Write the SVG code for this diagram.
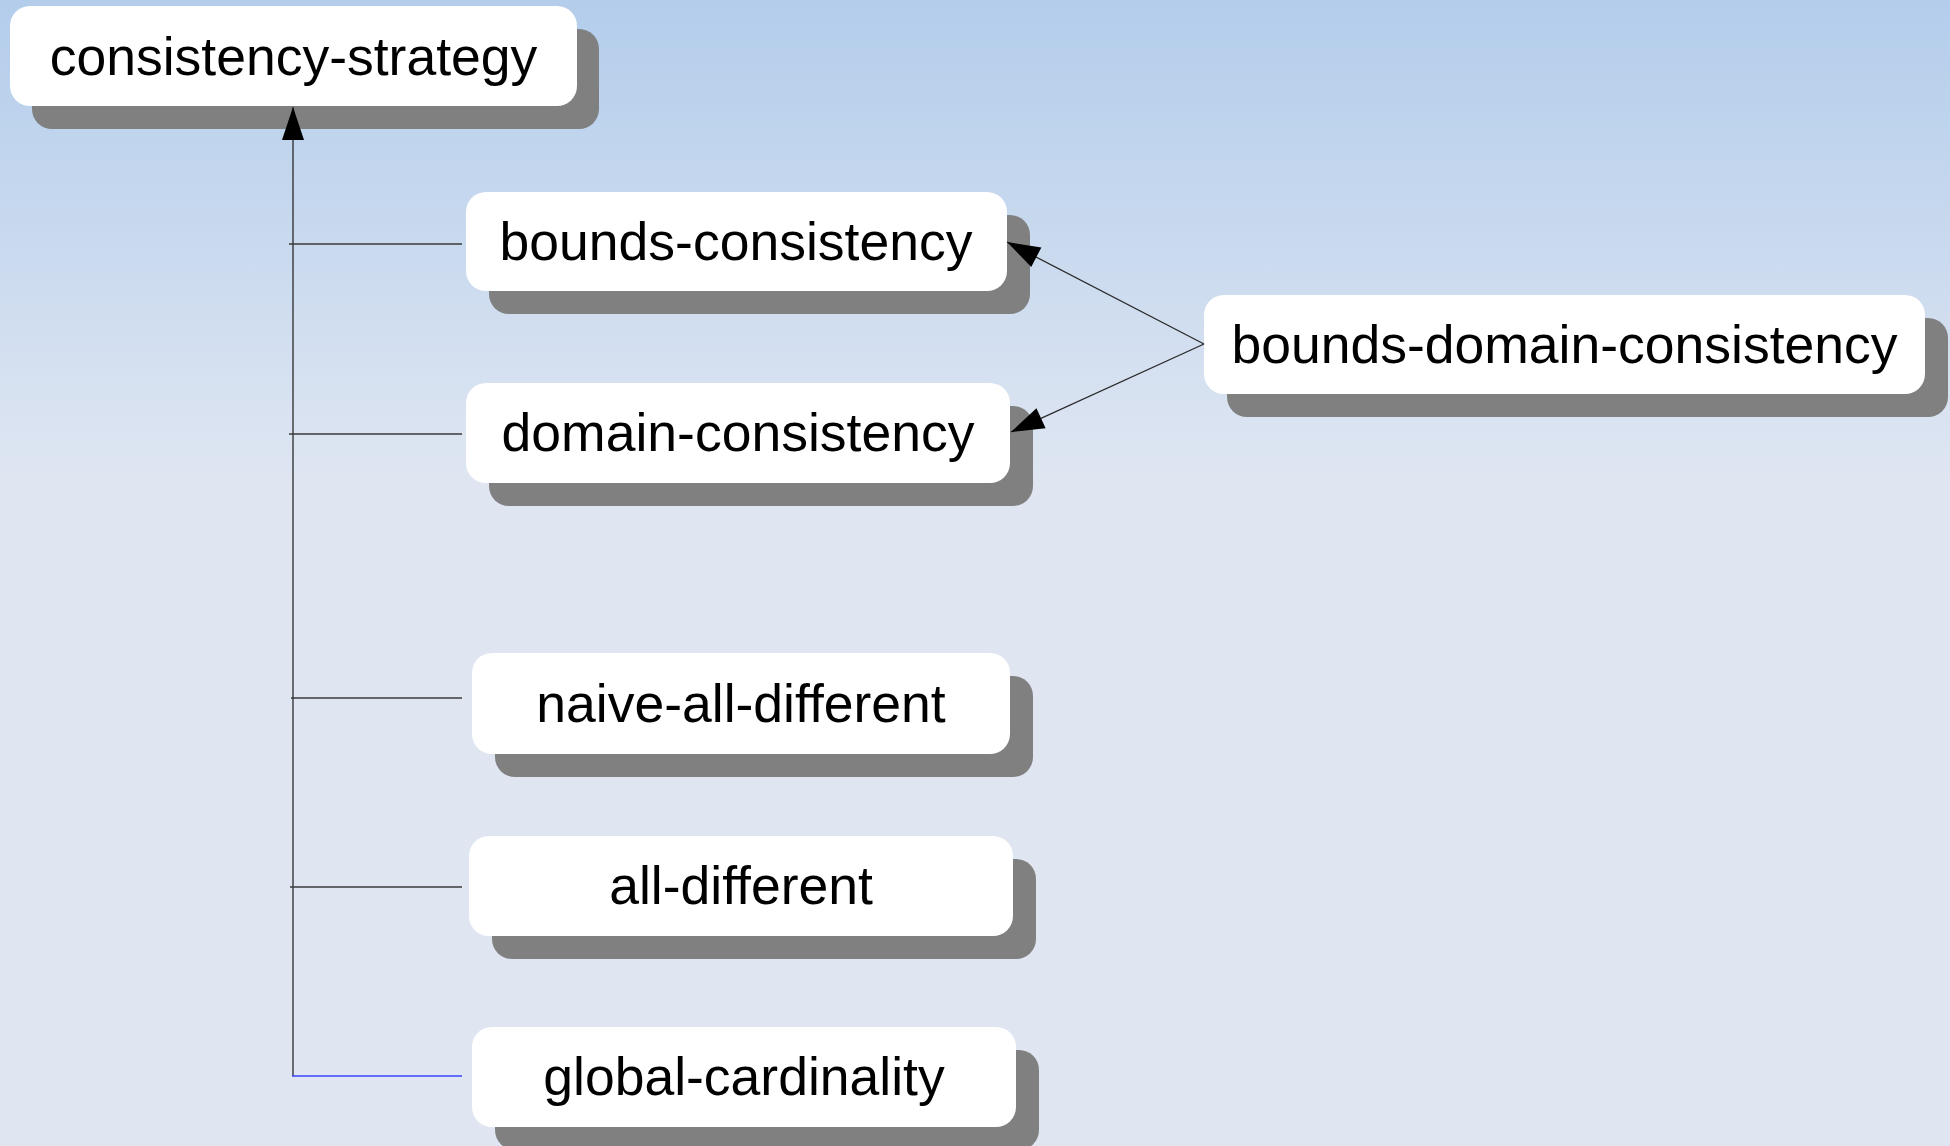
<svg xmlns="http://www.w3.org/2000/svg" width="1950" height="1146" viewBox="0 0 1950 1146">
  <defs>
    <linearGradient id="bg" x1="0" y1="0" x2="0" y2="1146" gradientUnits="userSpaceOnUse">
      <stop offset="0" stop-color="#b3cdeb"/>
      <stop offset="0.42" stop-color="#dfe6f2"/>
      <stop offset="1" stop-color="#dfe6f2"/>
    </linearGradient>
    <marker id="arrow" viewBox="0 0 34 22" markerUnits="userSpaceOnUse" markerWidth="34" markerHeight="22" refX="33" refY="11" orient="auto" overflow="visible">
      <path d="M0,0 L33,11 L0,22 z" fill="#000"/>
    </marker>
    <style>
      .shadow { fill: #808080; }
      .box { fill: #ffffff; }
      .label { font-family: "Liberation Sans", Arial, sans-serif; font-size: 53.5px; fill: #000; text-anchor: middle; }
      .edge { fill: none; stroke: #2a2a2a; stroke-width: 1.3; }
      .branch { fill: none; stroke: #3a3a3a; stroke-width: 1.5; }
    </style>
  </defs>

  <rect x="0" y="0" width="1950" height="1146" fill="url(#bg)"/>

  <!-- nodes -->
  <g id="consistency-strategy">
    <rect class="shadow" x="32" y="29" width="567" height="100" rx="20"/>
    <rect class="box" x="10" y="6" width="567" height="100" rx="20"/>
    <text class="label" x="293.5" y="74.5">consistency-strategy</text>
  </g>

  <g id="bounds-consistency">
    <rect class="shadow" x="489" y="215" width="541" height="99" rx="20"/>
    <rect class="box" x="466" y="192" width="541" height="99" rx="20"/>
    <text class="label" x="736" y="259.5">bounds-consistency</text>
  </g>

  <g id="domain-consistency">
    <rect class="shadow" x="489" y="406" width="544" height="100" rx="20"/>
    <rect class="box" x="466" y="383" width="544" height="100" rx="20"/>
    <text class="label" x="738" y="451">domain-consistency</text>
  </g>

  <g id="bounds-domain-consistency">
    <rect class="shadow" x="1227" y="318" width="721" height="99" rx="20"/>
    <rect class="box" x="1204" y="295" width="721" height="99" rx="20"/>
    <text class="label" x="1564.5" y="363">bounds-domain-consistency</text>
  </g>

  <g id="naive-all-different">
    <rect class="shadow" x="495" y="676" width="538" height="101" rx="20"/>
    <rect class="box" x="472" y="653" width="538" height="101" rx="20"/>
    <text class="label" x="741" y="722">naive-all-different</text>
  </g>

  <g id="all-different">
    <rect class="shadow" x="492" y="859" width="544" height="100" rx="20"/>
    <rect class="box" x="469" y="836" width="544" height="100" rx="20"/>
    <text class="label" x="741" y="904">all-different</text>
  </g>

  <g id="global-cardinality">
    <rect class="shadow" x="495" y="1050" width="544" height="100" rx="20"/>
    <rect class="box" x="472" y="1027" width="544" height="100" rx="20"/>
    <text class="label" x="744" y="1095">global-cardinality</text>
  </g>

  <!-- connectors, drawn over the node shadows so the arrowheads stay visible -->
  <g id="connectors">
    <path class="edge" d="M293,1076 L293,107" marker-end="url(#arrow)"/>
    <path class="branch" d="M289,244 L462,244"/>
    <path class="branch" d="M289,434 L462,434"/>
    <path class="branch" d="M291,698 L462,698"/>
    <path class="branch" d="M290,887 L462,887"/>
    <path class="branch" d="M292,1076 L462,1076" style="stroke:#3c46ff"/>
    <path class="edge" d="M1204,344 L1007,242" marker-end="url(#arrow)"/>
    <path class="edge" d="M1204,344 L1011,432" marker-end="url(#arrow)"/>
  </g>
</svg>
